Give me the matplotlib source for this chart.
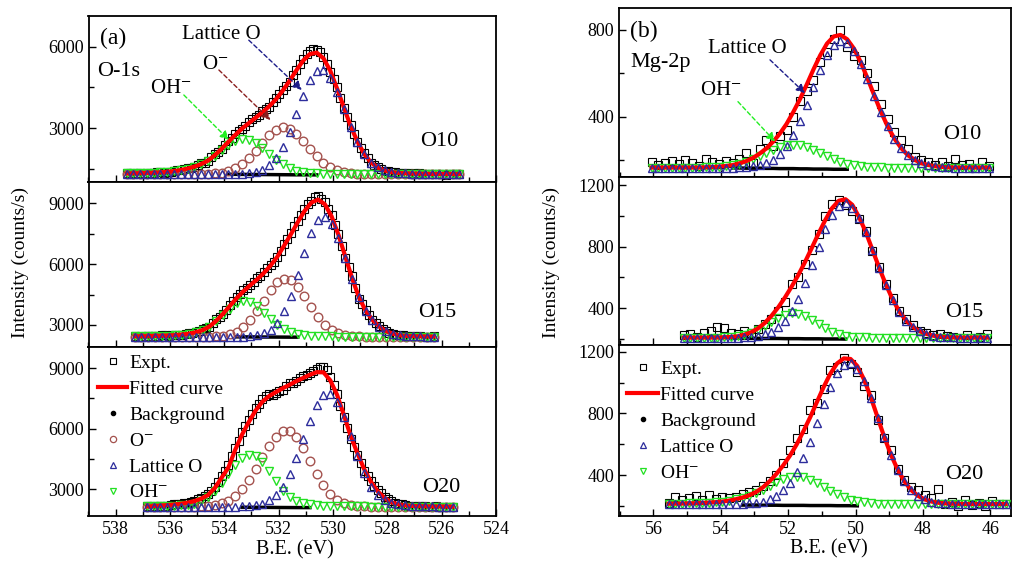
import numpy as np
import matplotlib
matplotlib.use("Agg")
import matplotlib.pyplot as plt
from matplotlib.lines import Line2D
from matplotlib.ticker import MultipleLocator

plt.rcParams['font.family'] = ['Liberation Serif', 'DejaVu Serif']
plt.rcParams['mathtext.fontset'] = 'stix'

# ---------------- O-1s (panel a) ----------------
# energy grids: (start, stop) in eV, points evenly spaced, one per value
o1s_range_10 = (537.6, 525.35)
o1s_range_15 = (537.3, 526.3)
o1s_range_20 = (536.85, 525.6)

# experimental points (0.125 eV step)
expt_a10 = [1350, 1340, 1330, 1355, 1360, 1335, 1345, 1360, 1370, 1380, 1385, 1370, 1380, 1410, 1440, 1460,
            1450, 1490, 1540, 1550, 1580, 1660, 1720, 1740, 1790, 1930, 2060, 2120, 2230, 2400, 2540, 2650,
            2790, 2900, 2960, 3080, 3240, 3330, 3420, 3500, 3640, 3700, 3780, 3960, 4120, 4260, 4420, 4560,
            4700, 4950, 5160, 5380, 5560, 5730, 5840, 5930, 5870, 5790, 5620, 5380, 5080, 4800, 4500, 4100,
            3740, 3420, 3120, 2780, 2490, 2280, 2080, 1900, 1720, 1640, 1590, 1500, 1430, 1420, 1410, 1380,
            1350, 1340, 1370, 1350, 1330, 1345, 1340, 1320, 1310, 1315, 1330, 1330, 1320, 1310, 1300, 1320,
            1330, 1320, 1310]
# fitted curve and components (0.25 eV step)
fit_a10 = [1340, 1345, 1350, 1356, 1365, 1378, 1395, 1425, 1465, 1520,
           1591, 1685, 1813, 2011, 2245, 2503, 2754, 2990, 3187, 3386,
           3587, 3807, 4067, 4385, 4742, 5128, 5488, 5730, 5782, 5572,
           5112, 4461, 3768, 3079, 2513, 2055, 1742, 1560, 1450, 1390,
           1360, 1345, 1335, 1330, 1325, 1322, 1320, 1320, 1320, 1320]
om_a10 = [1320, 1320, 1320, 1320, 1320, 1320, 1320, 1320, 1320, 1320,
          1321, 1325, 1333, 1346, 1375, 1434, 1532, 1690, 1903, 2173,
          2472, 2748, 2952, 3040, 2985, 2806, 2541, 2244, 1965, 1733,
          1564, 1452, 1385, 1348, 1333, 1325, 1322, 1320, 1320, 1320,
          1320, 1320, 1320, 1320, 1320, 1320, 1320, 1320, 1320, 1320]
lat_a10 = [1320, 1320, 1320, 1320, 1320, 1320, 1320, 1320, 1320, 1320,
           1320, 1320, 1320, 1320, 1320, 1320, 1322, 1330, 1345, 1395,
           1480, 1640, 1905, 2313, 2860, 3518, 4192, 4766, 5112, 5143,
           4858, 4323, 3700, 3050, 2500, 2050, 1740, 1560, 1450, 1390,
           1360, 1345, 1335, 1330, 1325, 1322, 1320, 1320, 1320, 1320]
oh_a10 = [1340, 1345, 1350, 1356, 1365, 1378, 1395, 1425, 1465, 1520,
          1590, 1680, 1800, 1985, 2190, 2389, 2540, 2610, 2579, 2458,
          2275, 2059, 1850, 1672, 1537, 1444, 1395, 1360, 1345, 1336,
          1330, 1326, 1323, 1321, 1320, 1320, 1320, 1320, 1320, 1320,
          1320, 1320, 1320, 1320, 1320, 1320, 1320, 1320, 1320, 1320]
bg_range_a10 = (533.85, 530.6)
bg_a10 = [1310, 1308, 1306, 1304, 1302, 1300, 1298, 1296, 1294, 1292, 1290, 1290, 1288, 1288]

expt_a15 = [2450, 2430, 2420, 2445, 2470, 2455, 2440, 2470, 2500, 2490, 2480, 2500, 2530, 2510, 2520, 2560,
            2600, 2610, 2650, 2700, 2790, 2830, 2900, 3080, 3280, 3400, 3560, 3760, 3980, 4170, 4380, 4550,
            4720, 4830, 4950, 5120, 5330, 5430, 5620, 5800, 5980, 6120, 6330, 6650, 6980, 7250, 7560, 7870,
            8150, 8420, 8700, 8950, 9100, 9300, 9340, 9200, 9050, 8720, 8400, 7950, 7500, 6900, 6320, 5850,
            5400, 4820, 4300, 4020, 3760, 3480, 3230, 3080, 2950, 2800, 2680, 2620, 2560, 2520, 2500, 2490,
            2470, 2450, 2440, 2440, 2460, 2430, 2420, 2425, 2440]
fit_a15 = [2440, 2445, 2450, 2458, 2468, 2480, 2500, 2530, 2570, 2640,
           2745, 2922, 3203, 3547, 3936, 4318, 4657, 4955, 5241, 5557,
           5927, 6363, 6913, 7472, 8063, 8619, 9033, 9185, 8953, 8348,
           7449, 6386, 5318, 4381, 3710, 3255, 2922, 2700, 2570, 2490,
           2465, 2450, 2440, 2432, 2428]
om_a15 = [2420, 2420, 2420, 2420, 2420, 2420, 2420, 2420, 2420, 2420,
          2425, 2432, 2443, 2477, 2546, 2678, 2902, 3235, 3683, 4199,
          4713, 5103, 5284, 5207, 4888, 4415, 3887, 3402, 3020, 2753,
          2589, 2500, 2454, 2436, 2428, 2424, 2422, 2420, 2420, 2420,
          2420, 2420, 2420, 2420, 2420]
lat_a15 = [2420, 2420, 2420, 2420, 2420, 2420, 2420, 2420, 2420, 2420,
           2420, 2420, 2420, 2420, 2420, 2420, 2429, 2444, 2485, 2586,
           2769, 3113, 3669, 4445, 5445, 6534, 7511, 8168, 8328, 7997,
           7268, 6298, 5279, 4362, 3700, 3250, 2920, 2700, 2570, 2490,
           2465, 2450, 2440, 2432, 2428]
oh_a15 = [2440, 2445, 2450, 2458, 2468, 2480, 2500, 2530, 2570, 2640,
          2740, 2910, 3180, 3490, 3810, 4060, 4166, 4116, 3913, 3612,
          3285, 2987, 2800, 2660, 2570, 2510, 2475, 2455, 2445, 2438,
          2432, 2428, 2425, 2423, 2422, 2421, 2420, 2420, 2420, 2420,
          2420, 2420, 2420, 2420, 2420]
bg_range_a15 = (533.55, 531.3)
bg_a15 = [2415, 2414, 2412, 2410, 2408, 2406, 2404, 2402, 2400, 2400]

expt_a20 = [2150, 2140, 2120, 2150, 2180, 2170, 2160, 2200, 2240, 2250, 2260, 2280, 2300, 2350, 2420, 2480,
            2560, 2640, 2750, 2900, 3100, 3350, 3650, 3900, 4200, 4650, 5050, 5400, 5850, 6150, 6450, 6750,
            7050, 7250, 7450, 7600, 7700, 7680, 7780, 7850, 7900, 8100, 8250, 8280, 8350, 8500, 8600, 8680,
            8750, 8850, 8950, 9050, 9080, 8900, 8550, 8150, 7700, 7150, 6600, 6050, 5500, 5100, 4700, 4300,
            3900, 3650, 3400, 3150, 2950, 2780, 2600, 2480, 2380, 2320, 2250, 2230, 2200, 2180, 2170, 2150,
            2140, 2150, 2160, 2130, 2120, 2140, 2130, 2120, 2110, 2115, 2120]
fit_a20 = [2130, 2150, 2170, 2200, 2230, 2270, 2320, 2400, 2520, 2700,
           3050, 3560, 4070, 4950, 5700, 6330, 6900, 7340, 7620, 7820,
           8010, 8180, 8360, 8520, 8680, 8810, 8800, 8400, 7680, 6680,
           5640, 4770, 3980, 3350, 2880, 2550, 2340, 2240, 2190, 2160,
           2150, 2140, 2135, 2130, 2125, 2120]
om_a20 = [2120, 2120, 2120, 2120, 2120, 2120, 2120, 2128, 2135, 2158,
          2203, 2283, 2422, 2653, 2982, 3435, 3984, 4577, 5152, 5609,
          5862, 5862, 5564, 5034, 4388, 3738, 3186, 2763, 2475, 2301,
          2207, 2158, 2138, 2128, 2124, 2122, 2120, 2120, 2120, 2120,
          2120, 2120, 2120, 2120, 2120, 2120]
lat_a20 = [2120, 2120, 2120, 2120, 2120, 2120, 2120, 2120, 2120, 2120,
           2120, 2120, 2120, 2124, 2131, 2148, 2188, 2272, 2430, 2701,
           3124, 3744, 4562, 5465, 6395, 7185, 7664, 7737, 7348, 6587,
           5622, 4641, 3778, 3124, 2720, 2460, 2310, 2230, 2190, 2165,
           2150, 2140, 2135, 2130, 2125, 2120]
oh_a20 = [2140, 2145, 2150, 2160, 2170, 2190, 2215, 2275, 2400, 2610,
          2915, 3320, 3770, 4210, 4545, 4705, 4635, 4327, 3871, 3379,
          2925, 2591, 2400, 2290, 2240, 2200, 2180, 2165, 2155, 2148,
          2142, 2138, 2134, 2130, 2127, 2125, 2122, 2120, 2120, 2120,
          2120, 2120, 2120, 2120, 2120, 2120]
bg_range_a20 = (533.35, 530.85)
bg_a20 = [2095, 2093, 2090, 2088, 2085, 2082, 2080, 2078, 2076, 2075, 2075]

# ---------------- Mg-2p (panel b), 0.2 eV step ----------------
mg_range_10 = (56.05, 46.05)
mg_range_15 = (55.1, 46.1)
mg_range_20 = (55.55, 45.55)

expt_b10 = [190, 175, 185, 195, 180, 200, 185, 170, 205, 190,
            180, 195, 185, 205, 230, 185, 250, 290, 265, 310,
            340, 400, 470, 520, 570, 650, 700, 760, 800, 720,
            680, 660, 600, 540, 460, 390, 330, 290, 250, 215,
            200, 190, 175, 190, 170, 205, 175, 180, 165, 190, 170]
fit_b10 = [165, 165, 165, 165, 165, 165, 165, 165, 166, 167,
           169, 172, 176, 184, 194, 209, 229, 253, 284, 321,
           366, 421, 481, 548, 618, 683, 737, 770, 777, 757,
           714, 652, 578, 499, 423, 355, 299, 255, 222, 201,
           185, 177, 171, 168, 166, 165, 165, 165, 165, 165, 165]
lat_b10 = [165, 165, 165, 165, 165, 165, 165, 165, 165, 165,
           165, 165, 165, 166, 167, 170, 176, 186, 202, 227,
           264, 316, 379, 454, 536, 616, 684, 731, 750, 739,
           703, 645, 574, 497, 422, 355, 299, 255, 222, 201,
           185, 177, 171, 168, 166, 165, 165, 165, 165, 165, 165]
oh_b10 = [165, 165, 165, 165, 165, 165, 165, 165, 166, 167,
          169, 172, 176, 183, 192, 204, 218, 232, 247, 259,
          267, 270, 267, 259, 247, 232, 218, 204, 192, 183,
          176, 172, 169, 167, 166, 165, 165, 165, 165, 165,
          165, 165, 165, 165, 165, 165, 165, 165, 165, 165, 165]
bg_range_b10 = (53.65, 50.25)
bg_b10 = [163, 163, 162, 162, 162, 161, 161, 160, 160, 160, 159, 159, 158, 158, 158, 157, 157, 157]

expt_b15 = [225, 230, 215, 240, 250, 280, 270, 240, 235, 250,
            240, 265, 300, 330, 380, 440, 560, 600, 690, 780,
            880, 1000, 1080, 1100, 1070, 1030, 980, 900, 770, 670,
            560, 470, 380, 330, 290, 250, 240, 225, 230, 220,
            215, 205, 225, 195, 215, 230]
fit_b15 = [210, 210, 210, 210, 210, 210, 212, 214, 218, 229,
           244, 269, 304, 350, 405, 469, 540, 616, 701, 792,
           885, 973, 1050, 1098, 1108, 1072, 993, 896, 779, 663,
           553, 457, 378, 320, 279, 251, 234, 222, 216, 213,
           211, 210, 210, 210, 210, 210]
lat_b15 = [210, 210, 210, 210, 210, 210, 210, 210, 210, 213,
           215, 221, 231, 249, 277, 320, 381, 461, 562, 678,
           799, 913, 1006, 1065, 1082, 1054, 988, 894, 779, 663,
           553, 457, 378, 320, 279, 251, 234, 222, 216, 213,
           211, 210, 210, 210, 210, 210]
oh_b15 = [210, 210, 210, 210, 210, 210, 212, 214, 218, 226,
          239, 258, 283, 311, 338, 359, 369, 365, 349, 324,
          296, 270, 248, 232, 222, 216, 213, 211, 210, 210,
          210, 210, 210, 210, 210, 210, 210, 210, 210, 210,
          210, 210, 210, 210, 210, 210]
bg_range_b15 = (53.7, 50.3)
bg_b15 = [206, 206, 205, 205, 205, 204, 204, 204, 203, 203, 203, 202, 202, 202, 201, 201, 201, 200]

expt_b20 = [220, 260, 235, 250, 265, 240, 270, 245, 255, 250,
            260, 280, 290, 300, 330, 360, 400, 480, 560, 640,
            700, 820, 870, 960, 1080, 1100, 1160, 1120, 1070, 980,
            920, 760, 640, 560, 440, 370, 320, 300, 270, 250,
            310, 215, 225, 200, 235, 205, 220, 200, 230, 210, 215]
fit_b20 = [214, 214, 215, 216, 217, 219, 221, 224, 228, 234,
           243, 254, 269, 290, 320, 360, 407, 462, 525, 598,
           684, 774, 873, 970, 1058, 1124, 1157, 1153, 1107, 1020,
           905, 776, 646, 531, 434, 358, 302, 265, 242, 228,
           220, 216, 214, 213, 212, 212, 212, 212, 212, 212, 212]
lat_b20 = [212, 212, 212, 212, 212, 212, 212, 212, 212, 212,
           213, 214, 216, 220, 228, 242, 265, 300, 351, 420,
           512, 616, 736, 858, 971, 1060, 1113, 1124, 1089, 1009,
           899, 773, 644, 530, 434, 358, 302, 265, 242, 228,
           220, 216, 214, 213, 212, 212, 212, 212, 212, 212, 212]
oh_b20 = [214, 214, 215, 216, 217, 219, 221, 224, 228, 234,
          242, 252, 265, 282, 304, 330, 354, 374, 386, 390,
          384, 370, 349, 324, 299, 276, 256, 241, 230, 223,
          218, 215, 214, 213, 212, 212, 212, 212, 212, 212,
          212, 212, 212, 212, 212, 212, 212, 212, 212, 212, 212]
bg_range_b20 = (53.35, 49.95)
bg_b20 = [205, 205, 205, 204, 204, 204, 203, 203, 203, 203, 202, 202, 202, 202, 201, 201, 201, 200]

a_yticks = [[3000, 6000], [3000, 6000, 9000], [3000, 6000, 9000]]
b_yticks = [[400, 800], [400, 800, 1200], [400, 800, 1200]]
a_xticks = [538, 536, 534, 532, 530, 528, 526, 524]
b_xticks = [56, 54, 52, 50, 48, 46]
sample_names = ['O10', 'O15', 'O20']

C_EXPT = 'black'
C_FIT = '#ff0000'
C_OM = '#a4524e'
C_LAT = '#2d2d9c'
C_OH = '#22e022'

W, H = 1014, 563
fig = plt.figure(figsize=(W / 100, H / 100), dpi=100)


def axes_px(x0, y0, x1, y1):
    return fig.add_axes([x0 / W, 1 - y1 / H, (x1 - x0) / W, (y1 - y0) / H])


def grid(rng, vals):
    return np.linspace(rng[0], rng[1], len(vals))


def draw(ax, rng, expt, fit, comps, bg_rng, bg, ms):
    ax.plot(grid(rng, expt), expt, ls='none', marker='s', ms=5.6, mfc='none',
            mec=C_EXPT, mew=0.8, zorder=2)
    e = grid(rng, fit)
    ax.plot(grid(bg_rng, bg), bg, color='k', lw=2.5, zorder=2.5)
    for vals, mk, col, z in comps:
        ax.plot(e, vals, ls='none', marker=mk, ms=ms, mfc='none', mec=col, mew=1.0, zorder=z)
    ax.plot(e, fit, color=C_FIT, lw=3, zorder=4)


def style(ax, xlim, ylim, yticks, yminor, xticks, labels):
    ax.set_xlim(*xlim)
    ax.set_ylim(*ylim)
    ax.set_xticks(xticks)
    ax.xaxis.set_minor_locator(MultipleLocator(1))
    ax.set_yticks(yticks)
    ax.yaxis.set_minor_locator(MultipleLocator(yminor))
    ax.tick_params(which='both', direction='in', top=False, right=False,
                   labelsize=13, width=1, labelbottom=labels)
    ax.tick_params(which='major', length=5)
    ax.tick_params(which='minor', length=3.5)
    for s in ax.spines.values():
        s.set_linewidth(1.3)


# panel (a)
rows_a = [(16, 182), (182, 347), (347, 515.7)]
ylims_a = [(1026, 7128), (1915, 10050), (1673, 10059)]
data_a = [
    (o1s_range_10, expt_a10, fit_a10, om_a10, lat_a10, oh_a10, bg_range_a10, bg_a10),
    (o1s_range_15, expt_a15, fit_a15, om_a15, lat_a15, oh_a15, bg_range_a15, bg_a15),
    (o1s_range_20, expt_a20, fit_a20, om_a20, lat_a20, oh_a20, bg_range_a20, bg_a20),
]
axes_a = []
for i, (r, d) in enumerate(zip(rows_a, data_a)):
    ax = axes_px(88.5, r[0], 496, r[1])
    rng, ex, ft, om, lat, oh, bgr, bg = d
    draw(ax, rng, ex, ft, [(om, 'o', C_OM, 3), (oh, 'v', C_OH, 3), (lat, '^', C_LAT, 5)], bgr, bg, 6.2)
    style(ax, (539, 524), ylims_a[i], a_yticks[i], 1500, a_xticks, i == 2)
    axes_a.append(ax)

# panel (b)
rows_b = [(8.3, 177.5), (177.5, 344.5), (344.5, 515.7)]
ylims_b = [(119, 900), (165, 1249), (136, 1247)]
data_b = [
    (mg_range_10, expt_b10, fit_b10, lat_b10, oh_b10, bg_range_b10, bg_b10),
    (mg_range_15, expt_b15, fit_b15, lat_b15, oh_b15, bg_range_b15, bg_b15),
    (mg_range_20, expt_b20, fit_b20, lat_b20, oh_b20, bg_range_b20, bg_b20),
]
axes_b = []
for i, (r, d) in enumerate(zip(rows_b, data_b)):
    ax = axes_px(619, r[0], 1011, r[1])
    rng, ex, ft, lat, oh, bgr, bg = d
    draw(ax, rng, ex, ft, [(oh, 'v', C_OH, 3), (lat, '^', C_LAT, 5)], bgr, bg, 5.8)
    style(ax, (57.02, 45.39), ylims_b[i], b_yticks[i], 200, b_xticks, i == 2)
    axes_b.append(ax)


def ftext(x, y, s, size, **kw):
    fig.text(x / W, 1 - y / H, s, fontsize=size, va='baseline', ha='left', **kw)


def arrow(ax, start, end, col):
    ax.annotate('', xy=end, xytext=start, zorder=6,
                arrowprops=dict(arrowstyle='-|>', color=col, lw=1.0, ls=(0, (3, 2)),
                                mutation_scale=13, shrinkA=0, shrinkB=0))


# labels panel (a)
ftext(100, 44, '(a)', 17)
ftext(97, 76, 'O-1s', 16)
ftext(182, 39.3, 'Lattice O', 15)
ftext(202, 69.3, 'O$^{-}$', 15)
ftext(150, 92.7, 'OH$^{-}$', 15)
for name, (xx, yy) in zip(sample_names, [(420, 146), (418, 317.3), (422, 491.7)]):
    ftext(xx, yy, name, 16)
arrow(axes_a[0], (533.1, 6240), (531.15, 4408), '#1c1c8a')
arrow(axes_a[0], (534.2, 5143), (532.3, 3305), '#8a1e1e')
arrow(axes_a[0], (535.49, 4224), (533.83, 2570), '#22ee22')

# labels panel (b)
ftext(630, 37, '(b)', 17)
ftext(630, 66.7, 'Mg-2p', 16)
ftext(708, 53.3, 'Lattice O', 15)
ftext(700, 95, 'OH$^{-}$', 15)
for name, (xx, yy) in zip(sample_names, [(943, 139.3), (945, 316.7), (945, 479.3)]):
    ftext(xx, yy, name, 16)
arrow(axes_b[0], (52.54, 662), (51.5, 508), '#1c1c8a')
arrow(axes_b[0], (53.49, 469), (52.39, 285), '#22ee22')

# legends
h_expt = Line2D([], [], ls='none', marker='s', ms=4.2, mfc='none', mec='k', mew=0.8, label='Expt.')
h_fit = Line2D([], [], color=C_FIT, lw=3, label='Fitted curve')
h_bg = Line2D([], [], ls='none', marker='o', ms=3, color='k', label='Background')
h_om = Line2D([], [], ls='none', marker='o', ms=4.5, mfc='none', mec=C_OM, mew=0.9, label='O$^{-}$')
h_lat = Line2D([], [], ls='none', marker='^', ms=4.5, mfc='none', mec=C_LAT, mew=0.9, label='Lattice O')
h_oh = Line2D([], [], ls='none', marker='v', ms=4.5, mfc='none', mec=C_OH, mew=0.9, label='OH$^{-}$')

axes_a[2].legend(handles=[h_expt, h_fit, h_bg, h_om, h_lat, h_oh], loc='upper left',
                 bbox_to_anchor=(98 / W, 1 - 354 / H), bbox_transform=fig.transFigure,
                 frameon=False, fontsize=14, handlelength=1.5, handletextpad=0.1,
                 labelspacing=0.43, borderpad=0, borderaxespad=0)
axes_b[2].legend(handles=[h_expt, h_fit, h_bg, h_lat, h_oh], loc='upper left',
                 bbox_to_anchor=(627 / W, 1 - 360 / H), bbox_transform=fig.transFigure,
                 frameon=False, fontsize=14, handlelength=1.6, handletextpad=0.1,
                 labelspacing=0.43, borderpad=0, borderaxespad=0)

# axis titles
fig.text(20 / W, 1 - 263 / H, 'Intensity (counts/s)', rotation=90, fontsize=14, ha='center', va='center')
fig.text(551 / W, 1 - 263 / H, 'Intensity (counts/s)', rotation=90, fontsize=14, ha='center', va='center')
fig.text(295 / W, 1 - 550 / H, 'B.E. (eV)', fontsize=14.5, ha='center', va='center')
fig.text(829 / W, 1 - 549 / H, 'B.E. (eV)', fontsize=14.5, ha='center', va='center')

fig.savefig('out.png', dpi=100)
